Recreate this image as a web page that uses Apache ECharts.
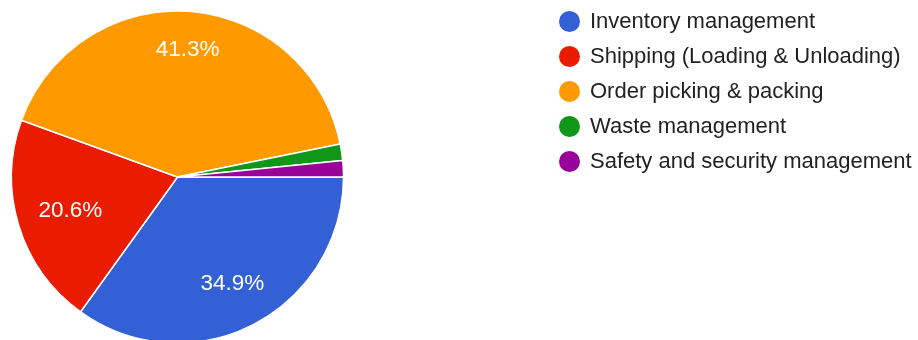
<!DOCTYPE html>
<html>
<head>
<meta charset="utf-8">
<script src="https://cdn.jsdelivr.net/npm/echarts@6/dist/echarts.min.js"></script>
<style>
  html, body { margin: 0; padding: 0; background: #fff; }
  #chart { width: 918px; height: 340px; }
</style>
</head>
<body>
<div id="chart"></div>
<script>
// Survey responses: share of answers per warehouse area
const categories = [
  'Inventory management',
  'Shipping (Loading & Unloading)',
  'Order picking & packing',
  'Waste management',
  'Safety and security management'
];
const responses = [22, 13, 26, 1, 1];

// Styling
const colors = ['#3360d4', '#e91b00', '#ff9900', '#109618', '#990099'];
const labelOffsets = [[-1, -2], [10, -2], [1, -5], [0, 0], [0, 0]];

const FONT = '"Liberation Sans", Arial, sans-serif';
const R = 166;
const CENTER = [177.5, 177];

const sliceData = categories.map((name, i) => ({ name, value: responses[i] }));
const labelData = categories.map((name, i) => ({
  name,
  value: responses[i],
  label: { offset: labelOffsets[i] }
}));

const chart = echarts.init(document.getElementById('chart'), null, { renderer: 'canvas' });
chart.setOption({
  animation: false,
  color: colors,
  legend: {
    orient: 'vertical',
    left: 552,
    top: 4,
    icon: 'circle',
    itemWidth: 23,
    itemHeight: 23,
    itemGap: 10,
    data: categories,
    selectedMode: false,
    textStyle: {
      fontFamily: FONT,
      fontSize: 22,
      lineHeight: 23,
      color: '#222',
      padding: [0, 0, 0, 4]
    }
  },
  series: [
    {
      type: 'pie',
      center: CENTER,
      radius: [0, R],
      startAngle: 0,
      clockwise: true,
      avoidLabelOverlap: false,
      label: { show: false },
      labelLine: { show: false },
      itemStyle: { borderColor: '#fff', borderWidth: 1.5 },
      emphasis: { disabled: true },
      data: sliceData
    },
    {
      // transparent ring used only to place the percentage labels
      type: 'pie',
      center: CENTER,
      radius: [R * 0.44, R],
      startAngle: 0,
      clockwise: true,
      silent: true,
      avoidLabelOverlap: false,
      itemStyle: { color: 'rgba(0,0,0,0)', borderWidth: 0 },
      emphasis: { disabled: true },
      labelLine: { show: false },
      label: {
        show: true,
        position: 'inside',
        fontFamily: FONT,
        fontSize: 22.5,
        color: '#fff',
        formatter: p => (p.percent >= 5 ? p.percent.toFixed(1) + '%' : '')
      },
      data: labelData
    }
  ]
});
</script>
</body>
</html>
